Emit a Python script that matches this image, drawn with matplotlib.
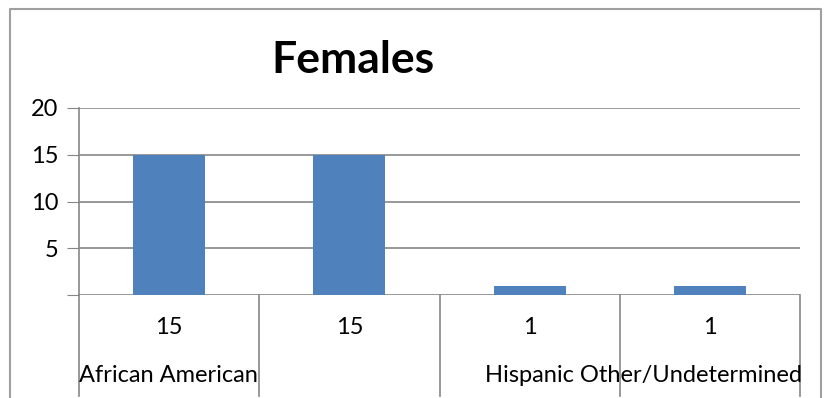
import matplotlib
matplotlib.use('Agg')
import matplotlib.pyplot as plt
from matplotlib.lines import Line2D

plt.rcParams['font.family'] = ['Lato', 'DejaVu Sans']

categories = ['African American', '', 'Hispanic', 'Other/Undetermined']
values = [15, 15, 1, 1]
yticks = [0, 5, 10, 15, 20]
ytick_labels = ['', '5', '10', '15', '20']

bar_color = '#4F81BD'
grid_color = '#868686'

fig = plt.figure(figsize=(8.31, 3.98), dpi=100)
ax = fig.add_axes([79 / 831, 1 - 295 / 398, (800 - 79) / 831, (295 - 108) / 398])

x = list(range(len(values)))
ax.bar(x, values, width=0.4, color=bar_color, zorder=3)
ax.set_xlim(-0.5, len(values) - 0.5)
ax.set_ylim(0, 20)
ax.set_yticks(yticks)
ax.set_yticklabels(ytick_labels, fontsize=17)
ax.set_xticks([])
ax.tick_params(axis='y', length=9, color=grid_color, pad=6)
ax.grid(axis='y', color=grid_color, linewidth=1.2, zorder=0)
for s in ['top', 'right', 'bottom']:
    ax.spines[s].set_visible(False)
ax.spines['left'].set_color(grid_color)
ax.spines['left'].set_linewidth(1.2)

# data table under the plot
for i in range(len(values) + 1):
    ax.plot([i - 0.5, i - 0.5], [0, -10.8], color=grid_color, lw=1.2, clip_on=False)
for i, v in enumerate(values):
    ax.text(i, -3.5, str(v), ha='center', va='center', fontsize=17)
ax.text(-0.5, -8.6, categories[0], ha='left', va='center', fontsize=17)
# last two labels run together as in the original
ax.text(1.75, -8.6, categories[2] + ' ' + categories[3], ha='left', va='center', fontsize=17)

fig.text(353 / 831, 1 - 60 / 398, 'Females', ha='center', va='center',
         fontsize=32, fontweight='bold')

# chart border
bx0, bx1, by0 = 10 / 831, 821 / 831, 1 - 9 / 398
fig.add_artist(Line2D([bx0, bx0, bx1, bx1], [0, by0, by0, 0], color='#A0A0A0', lw=1.5))

fig.savefig('out.png', dpi=100)
